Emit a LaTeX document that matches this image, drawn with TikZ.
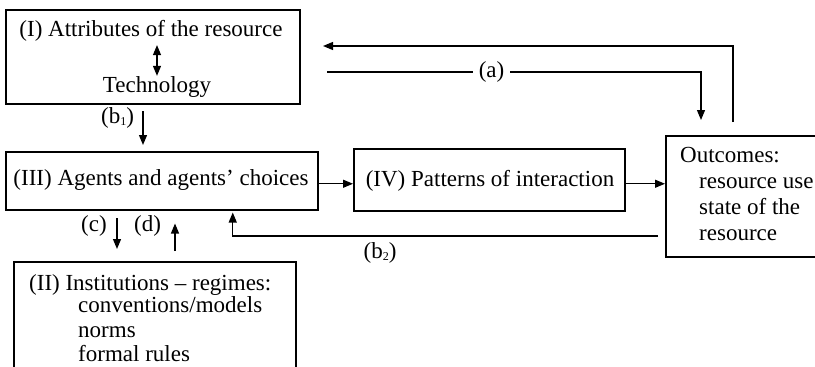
\documentclass[tikz,border=0pt]{standalone}
\usepackage{fontspec}
\setmainfont{Liberation Serif}
\usetikzlibrary{arrows.meta}
\newcommand{\lowsub}[1]{\raisebox{-2.5pt}{\fontsize{12}{12}\selectfont #1}}
\begin{document}
\begin{tikzpicture}[x=1pt,y=-1pt,
  box/.style={draw, line width=1.5pt, rectangle, inner sep=0pt, anchor=north west},
  lbl/.style={inner sep=0pt, font=\fontsize{23}{25}\selectfont},
  tip/.tip={Triangle[length=10pt,width=8pt]},
  conn/.style={line width=1.2pt, -tip},
  dbl/.style={line width=1.2pt, tip-tip},
  ]
\useasboundingbox (0,0) rectangle (815,367);

% (I) attributes box
\node[box, minimum width=294pt, minimum height=94pt] (attr) at (5,9) {};
\node[lbl, anchor=base] (attrtxt) at (151,36) {(I) Attributes of the resource};
\node[lbl, anchor=base] (tech) at (157,92) {Technology};
\draw[dbl, shorten >=4pt] (tech.north) -- (tech.north |- attrtxt.south);

% (III) agents box
\node[box, minimum width=312pt, minimum height=58pt] (agents) at (5,151) {};
\node[lbl, anchor=base] (agtxt) at (161,185) {(III) Agents and agents’ choices};

% (IV) patterns box
\node[box, minimum width=271pt, minimum height=62pt] (patterns) at (353,148) {};
\node[lbl, anchor=base] (pattxt) at (490,186) {(IV) Patterns of interaction};

% outcomes box
\node[box, minimum width=200pt, minimum height=121pt] (outcomes) at (665,135) {};
\node[lbl, anchor=base west] (out1) at (680,162) {Outcomes:};
\node[lbl, anchor=base west] (out2) at (699,188) {resource use};
\node[lbl, anchor=base west] (out3) at (699,214) {state of the};
\node[lbl, anchor=base west] (out4) at (699,240) {resource};

% (II) institutions box
\node[box, minimum width=282pt, minimum height=150pt] (inst) at (13,261) {};
\node[lbl, anchor=base west] (inst1) at (29,290) {(II) Institutions – regimes:};
\node[lbl, anchor=base west] (inst2) at (78,312) {conventions/models};
\node[lbl, anchor=base west] (inst3) at (78,337) {norms};
\node[lbl, anchor=base west] (inst4) at (78,361) {formal rules};

% main flow
\draw[conn] ([yshift=-3pt]agents.east) -- ([yshift=-3pt]agents.east -| patterns.west);
\draw[conn] ([yshift=-4pt]patterns.east) -- ([yshift=-4pt]patterns.east -| outcomes.west);

% feedback to the attributes
\coordinate (fbStart) at (733,122);
\coordinate (fbEnd) at (323,46);
\draw[conn] (fbStart) |- (fbEnd);

% link (a)
\coordinate (aStart) at (327,72);
\coordinate (aEnd) at (701,120);
\draw[conn] (aStart) -| node[pos=0.22, lbl, fill=white, inner xsep=6pt, inner ysep=2pt] (alab) {(a)} (aEnd);

% link (b1)
\coordinate (b1Start) at (143,111);
\draw[conn, shorten >=6pt] (b1Start) -- (b1Start |- agents.north);
\node[lbl, anchor=base west] (b1lab) at (101,123) {(b\lowsub{1})};

% link (b2)
\coordinate (b2Start) at (658,236);
\draw[conn, shorten >=2pt] (b2Start) -| ([xshift=71pt]agents.south);
\node[lbl, anchor=base] (b2lab) at (380,258) {(b\lowsub{2})};

% links (c) and (d)
\coordinate (cStart) at (117,218);
\draw[conn, shorten >=12pt] (cStart) -- (cStart |- inst.north);
\node[lbl, anchor=base west] (clab) at (81,231) {(c)};
\coordinate (dStart) at (175,251);
\draw[conn, shorten >=13pt] (dStart) -- (dStart |- agents.south);
\node[lbl, anchor=base west] (dlab) at (134,231) {(d)};
\end{tikzpicture}
\end{document}
